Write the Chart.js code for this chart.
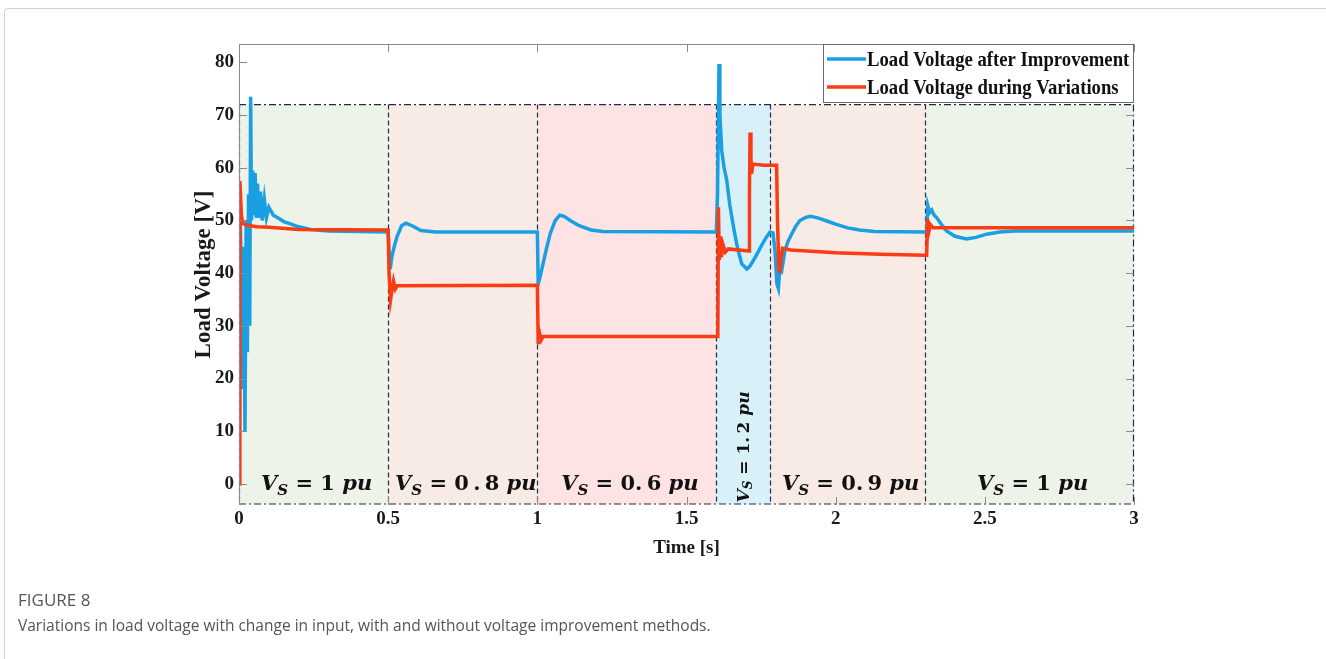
<!DOCTYPE html>
<html>
<head>
<meta charset="utf-8">
<title>Load voltage</title>
<script src="https://cdn.jsdelivr.net/npm/chart.js@4.4.1/dist/chart.umd.min.js"></script>
<style>
    html, body { margin: 0; padding: 0; background: #fff; overflow: hidden; }
    #wrap { position: relative; width: 1326px; height: 659px; }
    #card {
        position: absolute; left: 4px; top: 8px; width: 1400px; height: 700px;
        border: 1px solid #cfcfcf; border-radius: 4px; box-sizing: border-box;
    }
    #chart { position: absolute; left: 0; top: 0; }
    .fig-title {
        position: absolute; left: 18px; top: 588px;
        font: 17px "Open Sans", sans-serif; color: #555;
    }
    .fig-caption {
        position: absolute; left: 18px; top: 614px;
        font: 15.5px "Open Sans", sans-serif; color: #555;
    }
</style>
</head>
<body>
<div id="wrap">
    <div id="card"></div>
    <canvas id="chart" width="1326" height="659"></canvas>
    <div class="fig-title">FIGURE 8</div>
    <div class="fig-caption">Variations in load voltage with change in input, with and without voltage improvement methods.</div>
</div>
<script>
// axis ticks
const xTicks = [0, 0.5, 1, 1.5, 2, 2.5, 3];
const yTicks = [0, 10, 20, 30, 40, 50, 60, 70, 80];

// source voltage intervals
const regionStart = [0, 0.5, 1.0, 1.6, 1.78, 2.3];
const regionEnd = [0.5, 1.0, 1.6, 1.78, 2.3, 3];
const regionLabels = ['1', '0\u2009.\u20098', '0.\u20096', '1.\u20092', '0.\u20099', '1'];
const regionTop = 72;

// load voltage with the improvement methods
const improvedTime = [
    0, 0.004, 0.008, 0.012, 0.016, 0.02, 0.024, 0.028, 0.032, 0.036, 0.039, 0.042, 0.046, 0.05,
    0.054, 0.058, 0.062, 0.067, 0.072, 0.078, 0.085, 0.092, 0.1, 0.115, 0.13, 0.15, 0.17, 0.2,
    0.24, 0.3, 0.5,
    0.503, 0.507, 0.512, 0.52, 0.53, 0.545, 0.56, 0.58, 0.61, 0.66, 1.0,
    1.003, 1.01, 1.02, 1.03, 1.043, 1.06, 1.075, 1.09, 1.11, 1.14, 1.18, 1.22, 1.6,
    1.604, 1.609, 1.612, 1.618, 1.626, 1.635, 1.645, 1.652, 1.66, 1.668, 1.677, 1.685, 1.702,
    1.712, 1.724, 1.738, 1.752, 1.766, 1.78, 1.79, 1.797, 1.803, 1.808, 1.813, 1.819, 1.83,
    1.84, 1.853, 1.865, 1.88, 1.9, 1.915, 1.94, 1.97, 2.0, 2.04, 2.08, 2.13, 2.3,
    2.305, 2.309, 2.315, 2.322, 2.33, 2.338, 2.355, 2.372, 2.4, 2.439, 2.47, 2.506, 2.55, 2.6, 3
];
const improvedVolts = [
    0, 50, 40, 18, 45, 10, 50, 25, 55, 30, 73.5, 50, 59.5, 51,
    59, 50.5, 57, 50.5, 55.5, 50, 54, 50.5, 52.5, 51, 50.5, 49.8, 49.4, 48.8,
    48.3, 48, 47.8,
    44, 40.8, 43, 45, 47, 49, 49.5, 49, 48.1, 47.8, 47.8,
    38, 39.5, 42, 44.5, 47.5, 50, 51, 50.8, 50, 49, 48.2, 47.9, 47.8,
    55, 79.7, 70, 63.3, 60, 57.6, 53, 50.6, 48, 45.6, 43.5, 41.8, 40.8,
    41.3, 42.4, 43.8, 45.3, 46.7, 47.8, 47.6, 44, 38, 37.1, 41, 40.5, 44.3,
    46, 47.5, 48.8, 50, 50.6, 50.8, 50.5, 49.9, 49.3, 48.6, 48.2, 47.9, 47.8,
    47.8, 52.8, 51.5, 52, 51, 50.6, 49.2, 48, 47, 46.5, 46.8, 47.4, 47.8, 48, 48
];

// load voltage while the source varies
const variedTime = [
    0, 0.003, 0.008, 0.013, 0.03, 0.06, 0.1, 0.2, 0.5,
    0.503, 0.508, 0.512, 0.518, 0.524, 0.53, 1.0,
    1.003, 1.008, 1.013, 1.02, 1.6,
    1.605, 1.607, 1.61, 1.613, 1.617, 1.622, 1.63, 1.64, 1.71, 1.711, 1.713, 1.716, 1.718,
    1.723, 1.76, 1.802, 1.805, 1.809, 1.812, 1.817, 1.822, 1.85, 2.0, 2.15, 2.3,
    2.305, 2.308, 2.313, 2.318, 2.327, 3
];
const variedVolts = [
    0, 57.5, 51, 49.4, 49.1, 48.8, 48.7, 48.3, 48.2,
    40, 35, 36.5, 38.5, 37, 37.6, 37.7,
    26.5, 28.5, 27.3, 28, 28,
    28, 52.5, 42.5, 47, 43, 45.5, 44, 44.6, 44.2, 55, 66.7, 62, 58.9,
    60.7, 60.5, 60.5, 50, 41.8, 40, 43, 44.7, 44.4, 43.9, 43.6, 43.4,
    43.4, 50.3, 48, 49.2, 48.6, 48.6
];

const regionFills = ['#edf3e9', '#f8ebe5', '#fde3e3', '#d8f1f8', '#f8ebe5', '#edf3e9'];
const frameColor = '#8a8a8a';
const markColor = '#1f2c4c';
const serif = '"Liberation Serif", "Times New Roman", serif';
const mathSerif = '"DejaVu Serif", serif';

function toPoints(xs, ys) {
    return xs.map(function(t, i) { return { x: t, y: ys[i] }; });
}

// V_S = <value> pu, centred on (x, y)
function drawVs(ctx, x, y, value, size) {
    const it = 'italic bold ' + size + 'px ' + mathSerif;
    const bd = 'bold ' + size + 'px ' + mathSerif;
    const sub = 'italic bold ' + Math.round(size * 0.72) + 'px ' + mathSerif;
    const parts = [
        ['V', it, 0], ['S', sub, size * 0.28], [' = ', bd, 0],
        [value, bd, 0], [' ', bd, 0], ['pu', it, 0]
    ];
    let total = 0;
    parts.forEach(function(p) { ctx.font = p[1]; p.push(ctx.measureText(p[0]).width); total += p[3]; });
    let cx = x - total / 2;
    ctx.fillStyle = '#111';
    ctx.textBaseline = 'middle';
    ctx.textAlign = 'left';
    parts.forEach(function(p) {
        ctx.font = p[1];
        ctx.fillText(p[0], cx, y + p[2]);
        cx += p[3];
    });
}

const regionsPlugin = {
    id: 'regions',
    beforeDatasetsDraw(chart) {
        const ctx = chart.ctx;
        const xs = chart.scales.x, ys = chart.scales.y;
        const area = chart.chartArea;
        const top = ys.getPixelForValue(regionTop);
        const bottom = area.bottom - 1;

        ctx.save();
        regionStart.forEach(function(s, i) {
            const x0 = xs.getPixelForValue(s), x1 = xs.getPixelForValue(regionEnd[i]);
            ctx.fillStyle = regionFills[i];
            ctx.fillRect(x0, top, x1 - x0, bottom - top);
        });

        ctx.strokeStyle = markColor;
        ctx.lineWidth = 1.2;
        ctx.setLineDash([7, 3, 2, 3]);
        ctx.beginPath();
        ctx.moveTo(area.left, top); ctx.lineTo(area.right, top);
        ctx.moveTo(area.left, bottom); ctx.lineTo(area.right, bottom);
        ctx.moveTo(area.right - 0.5, top); ctx.lineTo(area.right - 0.5, bottom);
        ctx.stroke();

        ctx.setLineDash([5, 3]);
        ctx.beginPath();
        regionStart.forEach(function(s) {
            const px = Math.round(xs.getPixelForValue(s)) + 0.5;
            ctx.moveTo(px, top); ctx.lineTo(px, bottom);
        });
        ctx.stroke();
        ctx.restore();
    },
    afterDraw(chart) {
        const ctx = chart.ctx;
        const xs = chart.scales.x, ys = chart.scales.y;
        const area = chart.chartArea;

        ctx.save();
        // axes box and inward ticks
        ctx.strokeStyle = frameColor;
        ctx.lineWidth = 1;
        ctx.beginPath();
        ctx.moveTo(area.left + 0.5, area.bottom);
        ctx.lineTo(area.left + 0.5, area.top + 0.5);
        ctx.lineTo(area.right, area.top + 0.5);
        yTicks.forEach(function(v) {
            const py = Math.round(ys.getPixelForValue(v)) + 0.5;
            ctx.moveTo(area.left, py); ctx.lineTo(area.left + 8, py);
            ctx.moveTo(area.right, py); ctx.lineTo(area.right - 8, py);
        });
        xTicks.forEach(function(v) {
            const px = Math.round(xs.getPixelForValue(v)) + 0.5;
            ctx.moveTo(px, area.bottom); ctx.lineTo(px, area.bottom - 8);
            ctx.moveTo(px, area.top); ctx.lineTo(px, area.top + 8);
        });
        ctx.stroke();

        // interval labels
        regionStart.forEach(function(s, i) {
            if (i === 3) return;
            const cx = (xs.getPixelForValue(s) + xs.getPixelForValue(regionEnd[i])) / 2;
            drawVs(ctx, cx + 3, ys.getPixelForValue(0) + 1, regionLabels[i], 21);
        });
        const c3 = (xs.getPixelForValue(regionStart[3]) + xs.getPixelForValue(regionEnd[3])) / 2;
        ctx.save();
        ctx.translate(c3 + 1, area.bottom - 58);
        ctx.rotate(-Math.PI / 2);
        drawVs(ctx, 0, 0, regionLabels[3], 17);
        ctx.restore();

        // legend box, serif text slightly condensed
        const lx = 823, lw = area.right - lx, lt = area.top, lh = 58;
        ctx.fillStyle = '#fff';
        ctx.fillRect(lx, lt, lw, lh);
        ctx.strokeStyle = '#6a6a6a';
        ctx.strokeRect(lx + 0.5, lt + 0.5, lw - 1, lh);
        chart.data.datasets.forEach(function(ds, i) {
            const ly = lt + 15 + i * 28;
            ctx.strokeStyle = ds.borderColor;
            ctx.lineWidth = 3.5;
            ctx.beginPath();
            ctx.moveTo(lx + 4, ly); ctx.lineTo(lx + 43, ly);
            ctx.stroke();
            ctx.save();
            ctx.translate(lx + 44, ly + 1);
            ctx.scale(0.85, 1);
            ctx.fillStyle = '#111';
            ctx.font = 'bold 22px ' + serif;
            ctx.textAlign = 'left';
            ctx.textBaseline = 'middle';
            ctx.fillText(ds.label, 0, 0);
            ctx.restore();
        });
        ctx.restore();
    }
};

const tickFont = { family: serif, size: 19, weight: 'bold' };

new Chart(document.getElementById('chart'), {
    type: 'scatter',
    data: {
        datasets: [{
            label: 'Load Voltage after Improvement',
            data: toPoints(improvedTime, improvedVolts),
            borderColor: '#1a9fe3',
            showLine: true,
            borderWidth: 3.5,
            pointRadius: 0,
            tension: 0,
            order: 1
        }, {
            label: 'Load Voltage during Variations',
            data: toPoints(variedTime, variedVolts),
            borderColor: '#fa3c14',
            showLine: true,
            borderWidth: 3.5,
            pointRadius: 0,
            tension: 0,
            order: 0
        }]
    },
    options: {
        responsive: false,
        animation: false,
        devicePixelRatio: 1,
        layout: { padding: { left: 190, right: 192, top: 44, bottom: 94 } },
        plugins: {
            legend: { display: false },
            tooltip: { enabled: false }
        },
        scales: {
            x: {
                type: 'linear',
                min: 0,
                max: 3,
                afterBuildTicks: function(scale) {
                    scale.ticks = xTicks.map(function(v) { return { value: v }; });
                },
                afterFit: function(scale) { scale.height = 60; },
                grid: { display: false, drawTicks: false },
                border: { display: false },
                ticks: {
                    font: tickFont,
                    color: '#1a1a1a',
                    padding: 3,
                    maxRotation: 0,
                    callback: function(v) { return String(v); }
                },
                title: {
                    display: true,
                    text: 'Time [s]',
                    color: '#1a1a1a',
                    font: { family: serif, size: 19, weight: 'bold' },
                    padding: { top: 0, bottom: 6 }
                }
            },
            y: {
                min: -4,
                max: 83.5,
                afterBuildTicks: function(scale) {
                    scale.ticks = yTicks.map(function(v) { return { value: v }; });
                },
                afterFit: function(scale) { scale.width = 49; },
                grid: { display: false, drawTicks: false },
                border: { display: false },
                ticks: {
                    font: tickFont,
                    color: '#1a1a1a',
                    padding: 5,
                    callback: function(v) { return String(v); }
                },
                title: {
                    display: true,
                    text: 'Load Voltage [V]',
                    color: '#1a1a1a',
                    font: { family: serif, size: 23, weight: 'bold' },
                    padding: { top: 0, bottom: 0 }
                }
            }
        }
    },
    plugins: [regionsPlugin]
});
</script>
</body>
</html>
